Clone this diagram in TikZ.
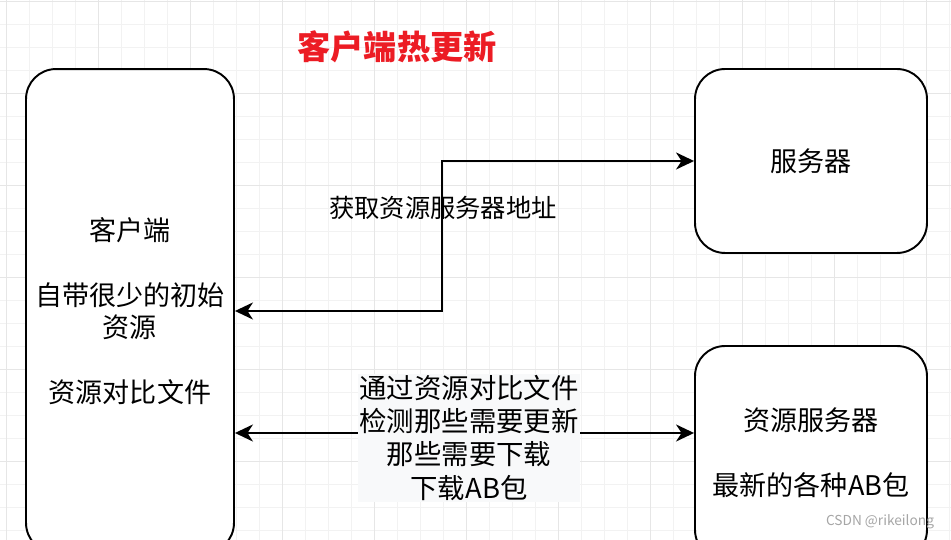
\documentclass[tikz,border=0pt]{standalone}
\usepackage{fontspec}
\setmainfont{Noto Sans CJK SC}
\usetikzlibrary{arrows.meta}
\definecolor{titlered}{RGB}{236,28,36}
\definecolor{gridminor}{RGB}{242,242,242}
\definecolor{gridmajor}{RGB}{230,230,230}
\definecolor{labelbg}{RGB}{248,249,250}
\tikzset{
  unit/.style={draw, fill=white, line width=1.1pt, rounded corners=0.6cm, align=center, font=\fontsize{15.4pt}{18.4pt}\selectfont},
  note/.style={align=center, inner sep=1pt, font=\fontsize{15.6pt}{18.8pt}\selectfont},
  biarrow/.style={{Stealth[length=3.6mm, width=3.4mm, inset=1.1mm]}-{Stealth[length=3.6mm, width=3.4mm, inset=1.1mm]}, line width=1.1pt}
}

\begin{document}
\begin{tikzpicture}[x=0.02cm, y=-0.02cm]
  \clip (0,0) rectangle (951,540);
  % grid
  \foreach \gx in {6,29,...,951} \draw[gridminor, line width=0.5pt] (\gx,0) -- (\gx,540);
  \foreach \gy in {1,24,...,540} \draw[gridminor, line width=0.5pt] (0,\gy) -- (951,\gy);
  \foreach \gx in {6,98,...,951} \draw[gridmajor, line width=0.5pt] (\gx,0) -- (\gx,540);
  \foreach \gy in {1,93,...,540} \draw[gridmajor, line width=0.5pt] (0,\gy) -- (951,\gy);

  \node[font=\fontsize{18.9pt}{22pt}\selectfont\bfseries, text=titlered] (title) at (397,47) {客户端热更新};

  \node[unit, minimum width=4.16cm, minimum height=9.68cm] (client) at (130,311)
    {客户端\\[18.4pt]自带很少的初始\\资源\\[18.4pt]资源对比文件};
  \node[unit, minimum width=4.64cm, minimum height=3.68cm] (server) at (811,161) {服务器};
  \node[unit, minimum width=4.64cm, minimum height=4.28cm] (resserver) at (811,453)
    {资源服务器\\[18.4pt]最新的各种AB包};

  \coordinate (bend) at (442,161);
  \coordinate (lowrow) at (0,433);
  \draw[biarrow] (client.east) -| (bend) -- (server.west);
  \node[note, font=\fontsize{14.4pt}{17pt}\selectfont] (addrlabel) at (443,208) {获取资源服务器地址};

  \draw[biarrow] (client.east |- lowrow) -- (resserver.west |- lowrow);
  \node[note, fill=labelbg] (checklabel) at (469,438)
    {通过资源对比文件\\检测那些需要更新\\那些需要下载\\下载AB包};

  \node[font=\fontsize{7.8pt}{9pt}\selectfont, text=gray!70] (mark) at (880,522) {CSDN @rikeilong};
\end{tikzpicture}
\end{document}
